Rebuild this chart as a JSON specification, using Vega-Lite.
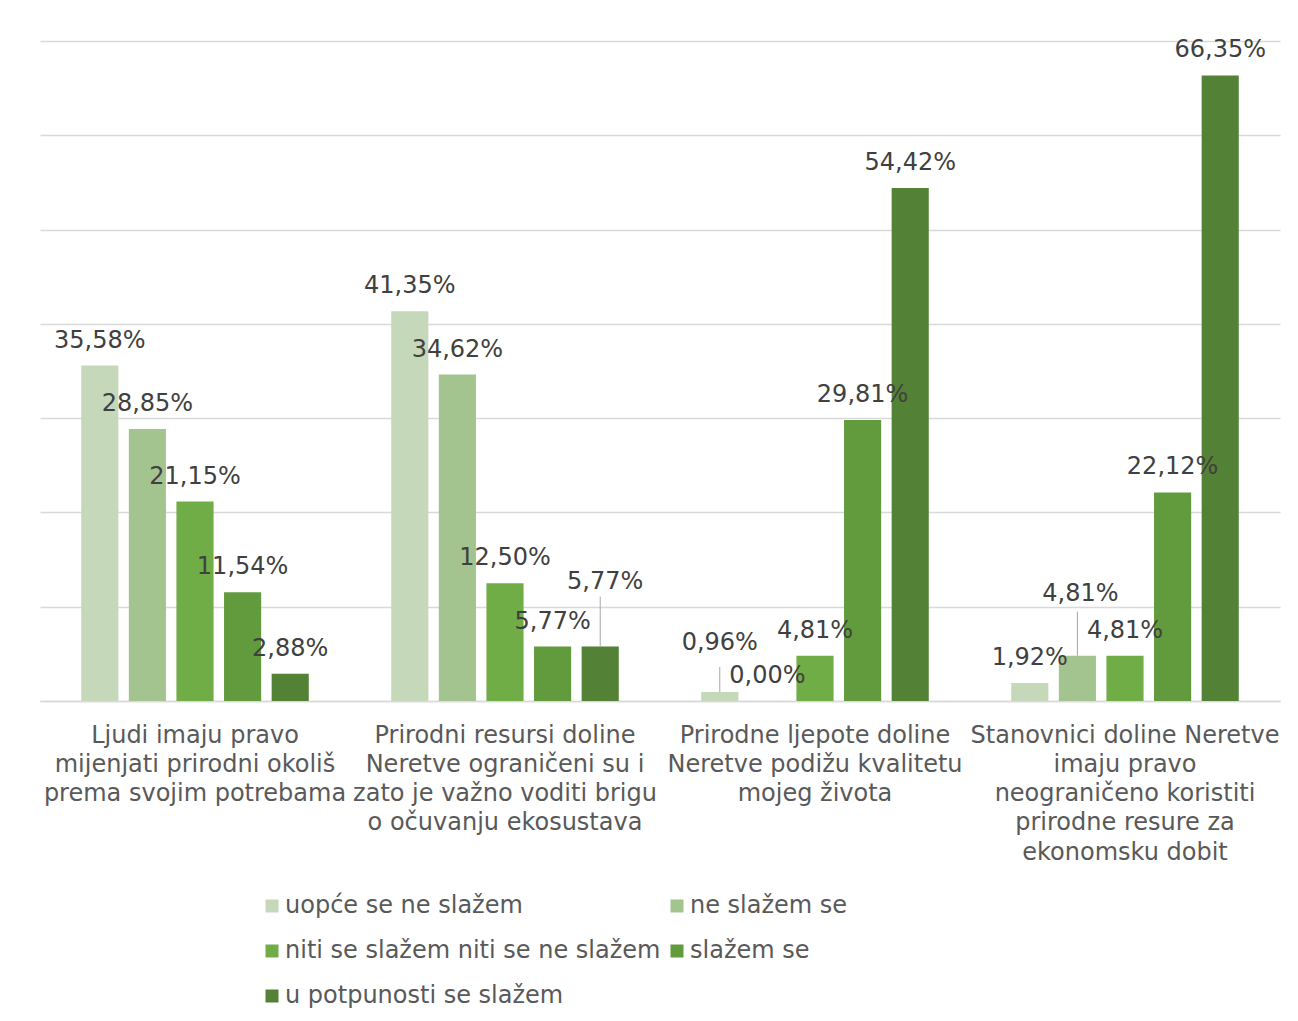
{
  "$schema": "https://vega.github.io/schema/vega-lite/v6.json",
  "width": 1240,
  "height": 660,
  "autosize": "none",
  "padding": {"left": 40, "top": 41, "right": 18, "bottom": 320},
  "background": "white",
  "config": {"view": {"stroke": null}, "font": "DejaVu Sans"},
  "data": {"values": [
    {"category": "Ljudi imaju pravo\nmijenjati prirodni okoliš\nprema svojim potrebama", "response": "uopće se ne slažem", "value": 35.58},
    {"category": "Ljudi imaju pravo\nmijenjati prirodni okoliš\nprema svojim potrebama", "response": "ne slažem se", "value": 28.85},
    {"category": "Ljudi imaju pravo\nmijenjati prirodni okoliš\nprema svojim potrebama", "response": "niti se slažem niti se ne slažem", "value": 21.15},
    {"category": "Ljudi imaju pravo\nmijenjati prirodni okoliš\nprema svojim potrebama", "response": "slažem se", "value": 11.54},
    {"category": "Ljudi imaju pravo\nmijenjati prirodni okoliš\nprema svojim potrebama", "response": "u potpunosti se slažem", "value": 2.88},
    {"category": "Prirodni resursi doline\nNeretve ograničeni su i\nzato je važno voditi brigu\no očuvanju ekosustava", "response": "uopće se ne slažem", "value": 41.35},
    {"category": "Prirodni resursi doline\nNeretve ograničeni su i\nzato je važno voditi brigu\no očuvanju ekosustava", "response": "ne slažem se", "value": 34.62},
    {"category": "Prirodni resursi doline\nNeretve ograničeni su i\nzato je važno voditi brigu\no očuvanju ekosustava", "response": "niti se slažem niti se ne slažem", "value": 12.50},
    {"category": "Prirodni resursi doline\nNeretve ograničeni su i\nzato je važno voditi brigu\no očuvanju ekosustava", "response": "slažem se", "value": 5.77},
    {"category": "Prirodni resursi doline\nNeretve ograničeni su i\nzato je važno voditi brigu\no očuvanju ekosustava", "response": "u potpunosti se slažem", "value": 5.77},
    {"category": "Prirodne ljepote doline\nNeretve podižu kvalitetu\nmojeg života", "response": "uopće se ne slažem", "value": 0.96},
    {"category": "Prirodne ljepote doline\nNeretve podižu kvalitetu\nmojeg života", "response": "ne slažem se", "value": 0.00},
    {"category": "Prirodne ljepote doline\nNeretve podižu kvalitetu\nmojeg života", "response": "niti se slažem niti se ne slažem", "value": 4.81},
    {"category": "Prirodne ljepote doline\nNeretve podižu kvalitetu\nmojeg života", "response": "slažem se", "value": 29.81},
    {"category": "Prirodne ljepote doline\nNeretve podižu kvalitetu\nmojeg života", "response": "u potpunosti se slažem", "value": 54.42},
    {"category": "Stanovnici doline Neretve\nimaju pravo\nneograničeno koristiti\nprirodne resure za\nekonomsku dobit", "response": "uopće se ne slažem", "value": 1.92},
    {"category": "Stanovnici doline Neretve\nimaju pravo\nneograničeno koristiti\nprirodne resure za\nekonomsku dobit", "response": "ne slažem se", "value": 4.81},
    {"category": "Stanovnici doline Neretve\nimaju pravo\nneograničeno koristiti\nprirodne resure za\nekonomsku dobit", "response": "niti se slažem niti se ne slažem", "value": 4.81},
    {"category": "Stanovnici doline Neretve\nimaju pravo\nneograničeno koristiti\nprirodne resure za\nekonomsku dobit", "response": "slažem se", "value": 22.12},
    {"category": "Stanovnici doline Neretve\nimaju pravo\nneograničeno koristiti\nprirodne resure za\nekonomsku dobit", "response": "u potpunosti se slažem", "value": 66.35}
  ]},
  "transform": [
    {"calculate": "replace(format(datum.value, '.2f'), '.', ',') + '%'", "as": "label"},
    {"calculate": "(substring(datum.category, 0, 16) == 'Prirodni resursi' && datum.response == 'u potpunosti se slažem') ? 'A' : (substring(datum.category, 0, 16) == 'Prirodne ljepote' && datum.response == 'uopće se ne slažem') ? 'B' : (substring(datum.category, 0, 10) == 'Stanovnici' && datum.response == 'ne slažem se') ? 'C' : 'N'", "as": "moved"}
  ],
  "encoding": {
    "x": {
      "field": "category", "type": "nominal", "sort": null,
      "scale": {"paddingInner": 0, "paddingOuter": 0},
      "axis": {
        "title": null, "labelAngle": 0, "ticks": false,
        "domainColor": "#d9d9d9", "domainWidth": 1.5,
        "labelExpr": "split(datum.label, '\\n')",
        "labelFontSize": 24, "labelColor": "#595959", "labelPadding": 22,
        "labelLineHeight": 29.3, "labelLimit": 400, "labelOverlap": false, "labelBound": false,
        "labelBaseline": "top"
      }
    },
    "xOffset": {
      "field": "response", "type": "nominal",
      "sort": ["uopće se ne slažem", "ne slažem se", "niti se slažem niti se ne slažem", "slažem se", "u potpunosti se slažem"],
      "scale": {"paddingInner": 0.22, "paddingOuter": 0.866}
    },
    "y": {
      "field": "value", "type": "quantitative",
      "scale": {"domain": [0, 70], "nice": false},
      "axis": {
        "title": null, "labels": false, "ticks": false, "domain": false,
        "grid": true, "gridColor": "#d9d9d9", "gridWidth": 1.5,
        "values": [0, 10, 20, 30, 40, 50, 60, 70]
      }
    }
  },
  "layer": [
    {
      "mark": {"type": "bar"},
      "encoding": {
        "color": {
          "field": "response", "type": "nominal",
          "sort": ["uopće se ne slažem", "ne slažem se", "niti se slažem niti se ne slažem", "slažem se", "u potpunosti se slažem"],
          "scale": {
            "domain": ["uopće se ne slažem", "ne slažem se", "niti se slažem niti se ne slažem", "slažem se", "u potpunosti se slažem"],
            "range": ["#c5d8ba", "#a3c48f", "#70ad47", "#629b3d", "#538135"]
          },
          "legend": {
            "title": null, "orient": "none", "legendX": 220, "legendY": 853,
            "direction": "horizontal",
            "columns": 2, "symbolType": "square", "symbolSize": 169,
            "symbolStrokeWidth": 0,
            "labelFontSize": 24, "labelColor": "#595959", "labelLimit": 600,
            "rowPadding": 21, "columnPadding": 4, "labelOffset": 1
          }
        }
      }
    },
    {
      "transform": [{"filter": "datum.moved == 'N'"}],
      "mark": {"type": "text", "baseline": "middle", "dy": -25, "fontSize": 24, "color": "#404040"},
      "encoding": {"text": {"field": "label"}}
    },
    {
      "transform": [{"filter": "datum.moved == 'A'"}],
      "mark": {"type": "rule", "color": "#a6a6a6", "strokeWidth": 1, "y2Offset": -50},
      "encoding": {"y2": {"field": "value"}}
    },
    {
      "transform": [{"filter": "datum.moved == 'A'"}],
      "mark": {"type": "text", "baseline": "middle", "dy": -65, "dx": 5, "fontSize": 24, "color": "#404040"},
      "encoding": {"text": {"field": "label"}}
    },
    {
      "transform": [{"filter": "datum.moved == 'B'"}],
      "mark": {"type": "rule", "color": "#a6a6a6", "strokeWidth": 1, "y2Offset": -25},
      "encoding": {"y2": {"field": "value"}}
    },
    {
      "transform": [{"filter": "datum.moved == 'B'"}],
      "mark": {"type": "text", "baseline": "middle", "dy": -49, "fontSize": 24, "color": "#404040"},
      "encoding": {"text": {"field": "label"}}
    },
    {
      "transform": [{"filter": "datum.moved == 'C'"}],
      "mark": {"type": "rule", "color": "#a6a6a6", "strokeWidth": 1, "y2Offset": -44},
      "encoding": {"y2": {"field": "value"}}
    },
    {
      "transform": [{"filter": "datum.moved == 'C'"}],
      "mark": {"type": "text", "baseline": "middle", "dy": -62, "dx": 3, "fontSize": 24, "color": "#404040"},
      "encoding": {"text": {"field": "label"}}
    }
  ]
}
